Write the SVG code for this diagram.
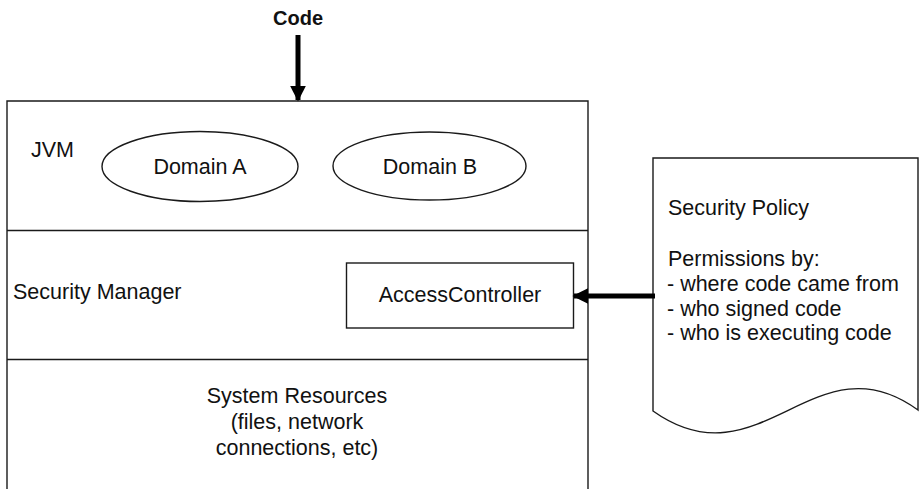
<svg xmlns="http://www.w3.org/2000/svg" width="919" height="489" viewBox="0 0 919 489">
<style>
.ln{fill:none;stroke:#1a1a1a;stroke-width:1.4}
.bx{fill:#fff;stroke:#1a1a1a;stroke-width:1.4}
.t{font-family:"Liberation Sans",Arial,sans-serif;font-size:21.5px;fill:#111}
.c{text-anchor:middle}
.b{font-weight:bold;font-size:20px}
.ar{stroke:#000;stroke-width:5;fill:none}
</style>
<defs>
<marker id="ah" viewBox="0 0 10 10" refX="9" refY="5" markerWidth="3.2" markerHeight="3.2" markerUnits="strokeWidth" orient="auto">
<path d="M0,0 L10,5 L0,10 z" fill="#000"/>
</marker>
</defs>
<g id="code-label"><text class="t b c" x="298" y="25">Code</text></g>
<g id="jvm-box">
<path class="ln" d="M7,495 V101 H588 V495"/>
<line class="ln" x1="7" y1="230.5" x2="588" y2="230.5"/>
<line class="ln" x1="7" y1="359.5" x2="588" y2="359.5"/>
<text class="t" x="31" y="157">JVM</text>
</g>
<g id="domain-a">
<ellipse class="bx" cx="200" cy="166.5" rx="98" ry="35"/>
<text class="t c" x="200" y="174">Domain A</text>
</g>
<g id="domain-b">
<ellipse class="bx" cx="429.5" cy="166" rx="96.5" ry="34"/>
<text class="t c" x="430" y="174">Domain B</text>
</g>
<g id="security-manager">
<text class="t" x="13" y="299">Security Manager</text>
</g>
<g id="access-controller">
<rect class="bx" x="346.5" y="263" width="227" height="65"/>
<text class="t c" x="460" y="302">AccessController</text>
</g>
<g id="system-resources">
<text class="t c" x="297" y="403">System Resources</text>
<text class="t c" x="297" y="429">(files, network</text>
<text class="t c" x="297" y="455">connections, etc)</text>
</g>
<g id="security-policy">
<path class="bx" d="M653,158 H918 V410 C815,335 760,487 653,411 Z"/>
<text class="t" x="668" y="215">Security Policy</text>
<text class="t" x="668" y="266">Permissions by:</text>
<text class="t" x="667" y="291">- where code came from</text>
<text class="t" x="667" y="315.5">- who signed code</text>
<text class="t" x="667" y="340">- who is executing code</text>
</g>
<g id="connectors">
<line class="ar" x1="298" y1="35" x2="298" y2="100" marker-end="url(#ah)"/>
<line class="ar" x1="655" y1="296" x2="574" y2="296" marker-end="url(#ah)"/>
</g>
</svg>
